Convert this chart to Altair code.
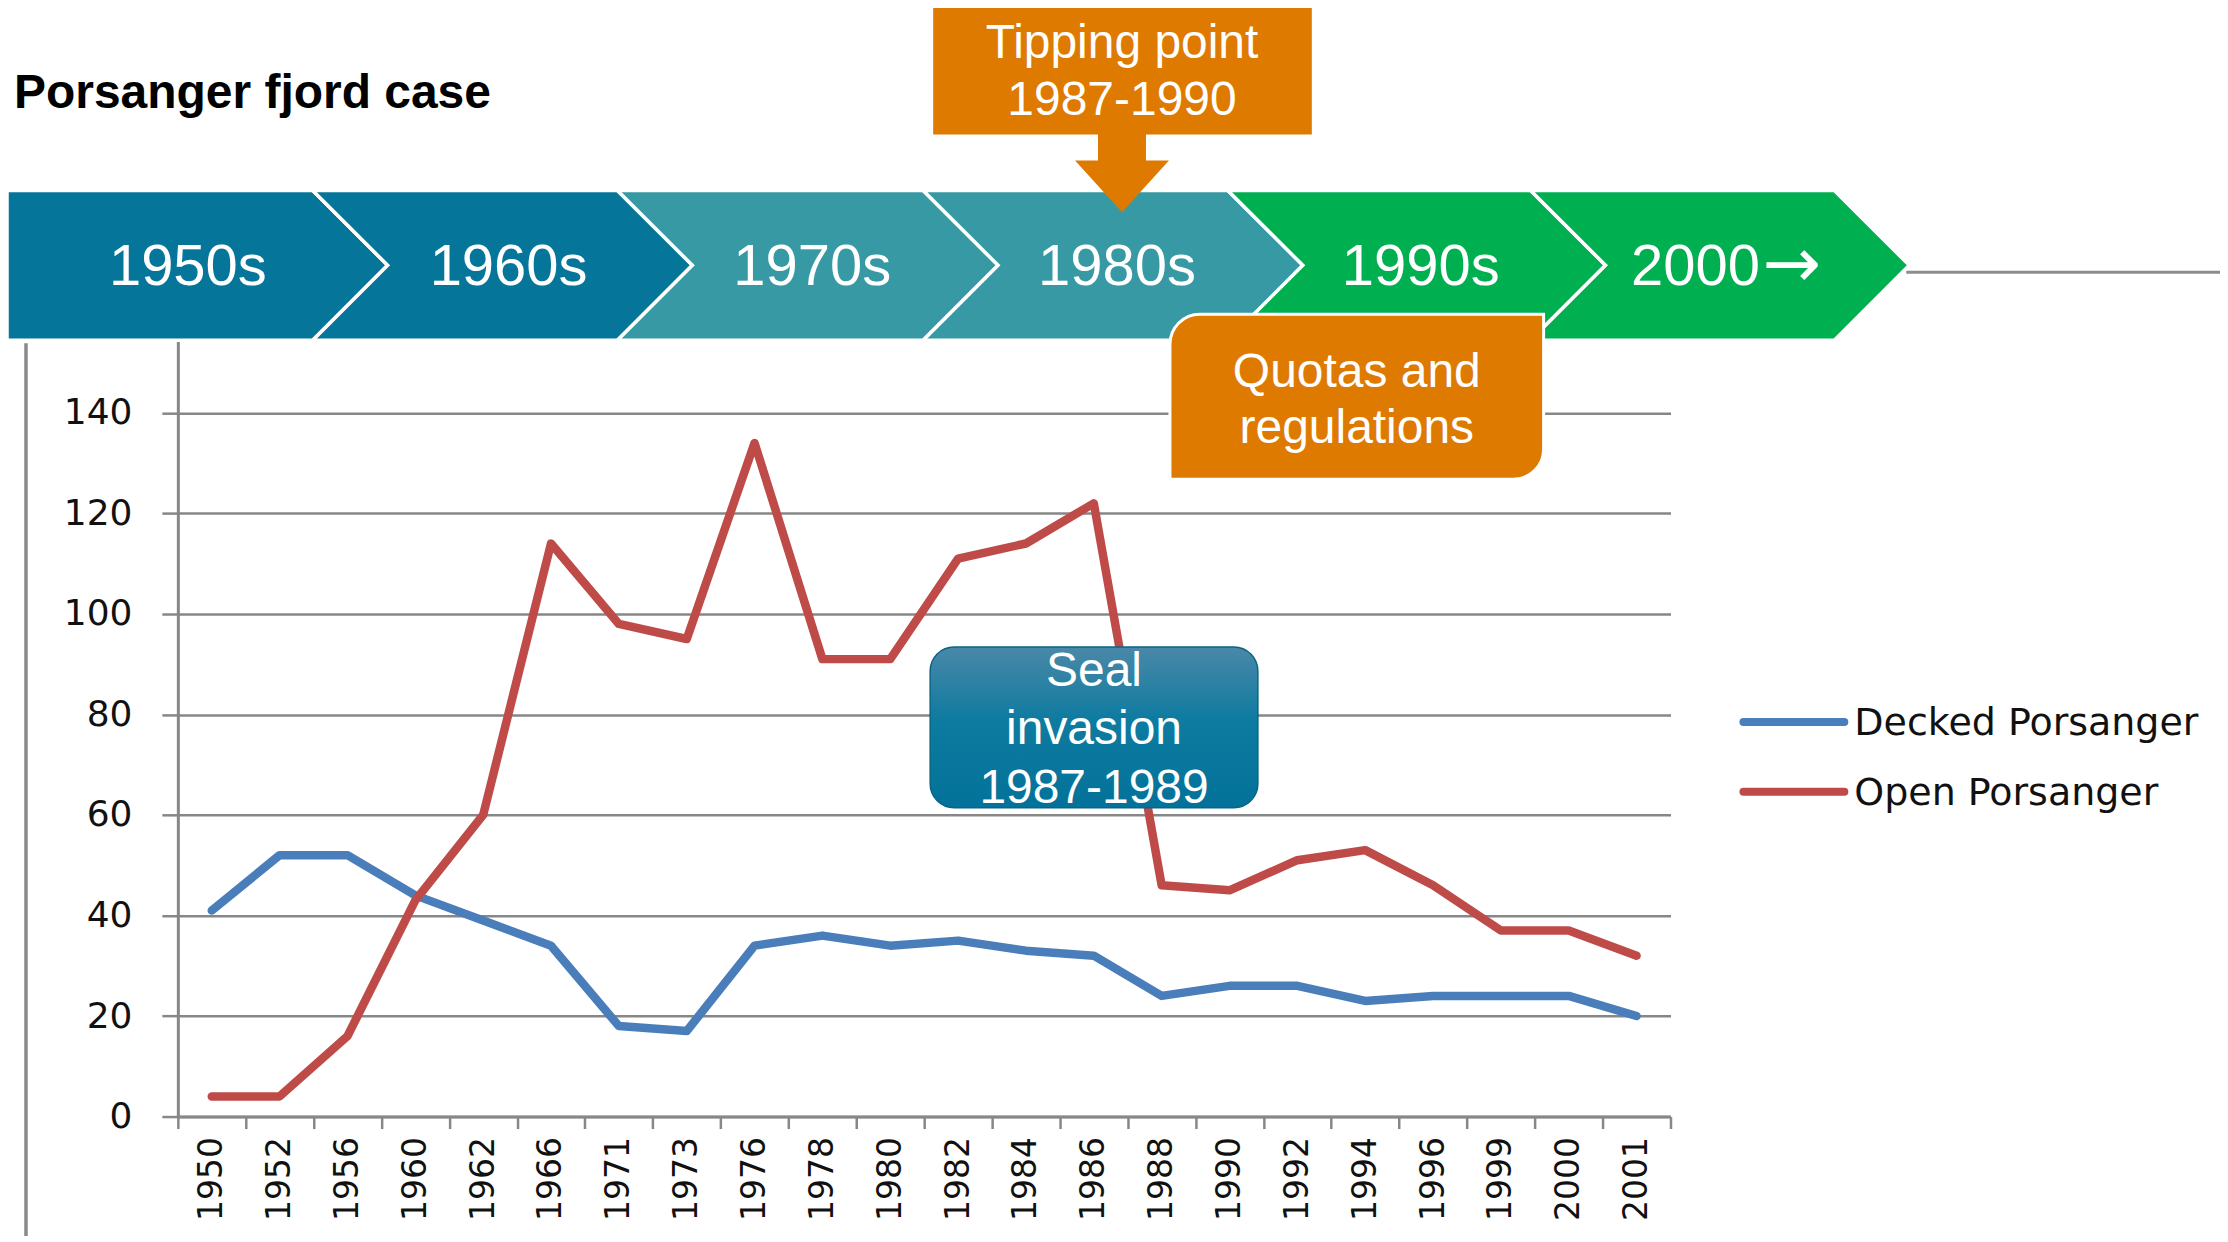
import altair as alt
import pandas as pd

# ---------------- data ----------------
years = ["1950", "1952", "1956", "1960", "1962", "1966", "1971", "1973", "1976", "1978", "1980",
         "1982", "1984", "1986", "1988", "1990", "1992", "1994", "1996", "1999", "2000", "2001"]
decked = [41, 52, 52, 44, 39, 34, 18, 17, 34, 36, 34, 35, 33, 32, 24, 26, 26, 23, 24, 24, 24, 20]
open_ = [4, 4, 16, 43, 60, 114, 98, 95, 134, 91, 91, 111, 114, 122, 46, 45, 51, 53, 46, 37, 37, 32]
series_names = ["Decked Porsanger", "Open Porsanger"]
series_colors = ["#4A7EBB", "#BE4B48"]
y_ticks = [0, 20, 40, 60, 80, 100, 120, 140]
decades = ["1950s", "1960s", "1970s", "1980s", "1990s", "2000"]
decade_colors = ["#05759A", "#05759A", "#3799A3", "#3799A3", "#00AF50", "#00AF50"]
title_text = "Porsanger fjord case"
tipping_lines = ["Tipping point", "1987-1990"]
quota_lines = ["Quotas and", "regulations"]
seal_lines = ["Seal", "invasion", "1987-1989"]

# ---------------- layout (page pixels) ----------------
MARGIN = 8
OX, OY = 178, 312          # plot origin on the page
W, H = 1494, 805           # plot area
CANVAS_W, CANVAS_H = 2214, 1228
ORANGE = "#DF7A00"
GRAY = "#878787"


def px(X):
    return X - OX


def py(Y):
    return Y - OY


one = pd.DataFrame({"k": [0]})

# ---------------- main line chart ----------------
rows = []
for name, vals in zip(series_names, [decked, open_]):
    for yr, v in zip(years, vals):
        rows.append({"year": yr, "value": v, "series": name})
df = pd.DataFrame(rows)

lines = alt.Chart(df).mark_line(strokeWidth=8.5, strokeJoin="round", strokeCap="round").encode(
    x=alt.X("year:N", sort=years,
            scale=alt.Scale(type="band", paddingInner=0, paddingOuter=0),
            axis=alt.Axis(title=None, tickBand="extent", tickSize=12, tickColor=GRAY, tickWidth=2.5,
                          domainColor=GRAY, domainWidth=3, labelAngle=270, labelFont="DejaVu Sans",
                          labelFontSize=33, labelColor="#111111", labelPadding=8, grid=False)),
    y=alt.Y("value:Q", scale=alt.Scale(domain=[0, 160], nice=False),
            axis=alt.Axis(title=None, values=y_ticks, tickSize=16, tickColor=GRAY, tickWidth=2.5,
                          domainColor=GRAY, domainWidth=3, labelFont="DejaVu Sans", labelFontSize=36,
                          labelColor="#111111", labelPadding=30, grid=True, gridColor=GRAY,
                          gridWidth=2.5)),
    color=alt.Color("series:N", scale=alt.Scale(domain=series_names, range=series_colors), legend=None),
)

layers = [lines]


def polygon(points, fill, stroke=None, sw=0):
    d = pd.DataFrame({"px": [px(p[0]) for p in points], "py": [py(p[1]) for p in points],
                      "i": list(range(len(points)))})
    kw = dict(fill=fill, strokeWidth=sw, strokeJoin="miter")
    kw["stroke"] = stroke if stroke else fill
    return alt.Chart(d).mark_line(**kw).encode(
        x=alt.X("px:Q", scale=None, axis=None),
        y=alt.Y("py:Q", scale=None, axis=None),
        order=alt.Order("i:Q"),
    )


def text(t, X, Y, size, color="white", font="Liberation Sans", weight="normal", align="center",
         baseline="alphabetic"):
    return alt.Chart(one).mark_text(text=t, font=font, fontSize=size, color=color, fontWeight=weight,
                                    align=align, baseline=baseline).encode(
        x=alt.value(px(X)), y=alt.value(py(Y)))


def rect(x0, y0, x1, y1, fill, **kw):
    return alt.Chart(one).mark_rect(fill=fill, **kw).encode(
        x=alt.value(px(x0)), x2=alt.value(px(x1)), y=alt.value(py(y0)), y2=alt.value(py(y1)))


def rule(x0, y0, x1, y1, color, width):
    return alt.Chart(one).mark_rule(color=color, strokeWidth=width).encode(
        x=alt.value(px(x0)), x2=alt.value(px(x1)), y=alt.value(py(y0)), y2=alt.value(py(y1)))


# decorative lines of the slide
layers.append(rule(1908, 272, 2240, 272, "#8C8C8C", 3))
layers.append(rule(26, 343, 26, 1250, "#8A8A8A", 3.5))

# chevron band
notch = [7, 313, 618, 924, 1229, 1532]
right = [313, 618, 924, 1229, 1532, 1836]
depth = 75
TOP, BOT, MID = 190, 340, 265
for i in range(6):
    N, R = notch[i], right[i]
    pts = [(N, TOP), (R, TOP), (R + depth, MID), (R, BOT), (N, BOT)]
    if i > 0:
        pts.append((N + depth, MID))
    pts.append((N, TOP))
    layers.append(polygon(pts, decade_colors[i], stroke="white", sw=3.5))

centers = [188, 509, 813, 1118, 1422, 1697]
for lab, c in zip(decades, centers):
    layers.append(text(lab, c, 285, 58))
# arrow after "2000"
layers.append(text("\u2192", 1764, 287, 70, font="DejaVu Sans", align="left"))

# tipping point box + arrow
layers.append(rect(934, 3, 1313, 134, ORANGE))
layers.append(rect(1099, 132, 1147, 162, ORANGE))
layers.append(polygon([(1076, 160), (1170, 160), (1123, 212), (1076, 160)], ORANGE))
layers.append(text(tipping_lines[0], 1123, 57, 48))
layers.append(text(tipping_lines[1], 1123, 115, 48))

# quotas box
layers.append(rect(1171, 314, 1545, 479, ORANGE, stroke="white", strokeWidth=3,
                   cornerRadiusTopLeft=30, cornerRadiusBottomRight=30))
layers.append(text(quota_lines[0], 1358, 387, 48))
layers.append(text(quota_lines[1], 1358, 443, 48))

# seal invasion box
seal_grad = alt.Gradient(gradient="linear", x1=0, y1=0, x2=0, y2=1,
                         stops=[alt.GradientStop(color="#4A88A8", offset=0),
                                alt.GradientStop(color="#0E7BA0", offset=0.45),
                                alt.GradientStop(color="#03729A", offset=1)])
layers.append(rect(931, 647, 1259, 808, seal_grad, stroke="#0A6584", strokeWidth=1.5, cornerRadius=24))
layers.append(text(seal_lines[0], 1095, 686, 48))
layers.append(text(seal_lines[1], 1095, 744, 48))
layers.append(text(seal_lines[2], 1095, 803, 48))

# legend
for k, (name, col) in enumerate(zip(series_names, series_colors)):
    yy = 722 + 70 * k
    layers.append(alt.Chart(one).mark_rule(color=col, strokeWidth=8, strokeCap="round").encode(
        x=alt.value(px(1745)), x2=alt.value(px(1846)), y=alt.value(py(yy)), y2=alt.value(py(yy))))
    layers.append(text(name, 1856, yy + 2, 38, color="#111111", font="DejaVu Sans", align="left",
                       baseline="middle"))

# title
layers.append(text(title_text, 14, 108, 48, color="black", weight="bold", align="left"))

chart = alt.layer(*layers).properties(
    width=W, height=H,
    autosize=alt.AutoSizeParams(type="none"),
    padding={"left": OX - MARGIN, "top": OY - MARGIN,
             "right": CANVAS_W - (OX - MARGIN) - W, "bottom": CANVAS_H - (OY - MARGIN) - H},
    background="white",
).configure_view(strokeWidth=0)

chart.save("out.html", embed_options={"renderer": "svg", "actions": False})
